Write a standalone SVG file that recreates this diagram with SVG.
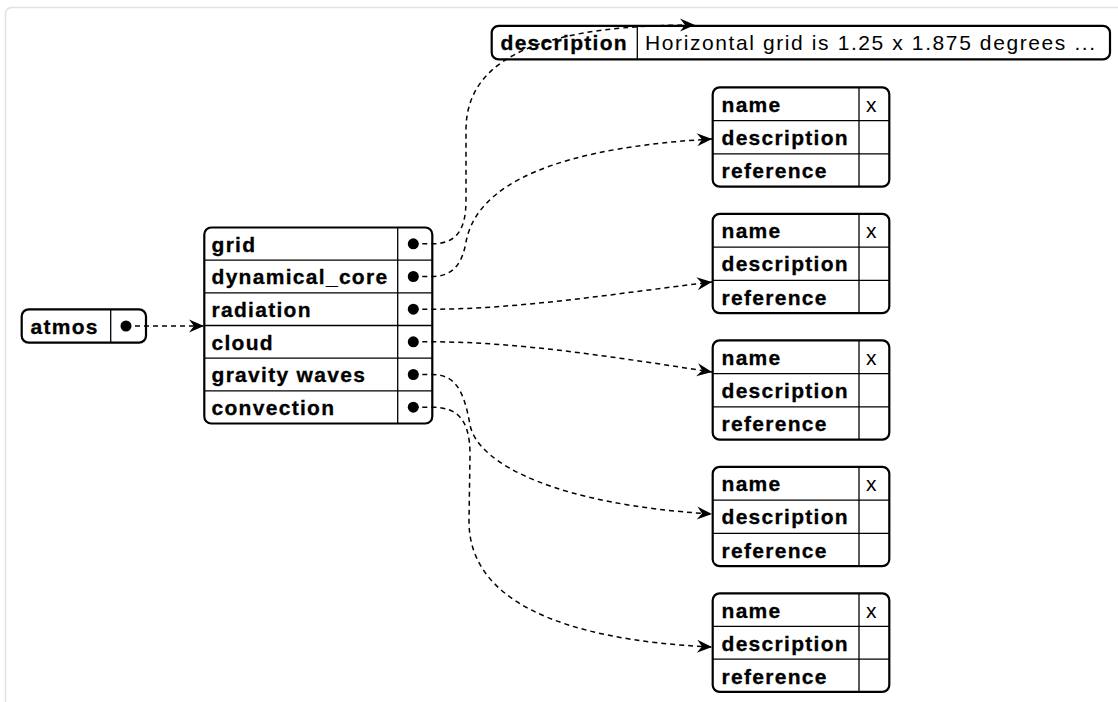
<svg xmlns="http://www.w3.org/2000/svg" width="1118" height="702" viewBox="0 0 1118 702">
  <style>
    .frame { fill: none; stroke: #dfe1ea; stroke-width: 1.5; }
    .box { fill: #ffffff; stroke: #000000; stroke-width: 2.2; }
    .sep { stroke: #000000; stroke-width: 1.3; fill: none; }
    .lbl { font-family: "Liberation Sans", Arial, sans-serif; font-size: 21px; font-weight: bold; letter-spacing: 1.3px; fill: #000000; stroke: #000000; stroke-width: 0.3px; }
    .val { font-family: "Liberation Sans", Arial, sans-serif; font-size: 21px; font-weight: normal; letter-spacing: 1.6px; fill: #000000; }
    .dot { fill: #000000; }
    .edge { fill: none; stroke: #000000; stroke-width: 1.5; stroke-dasharray: 5 4; marker-end: url(#vee); }
  </style>
  <defs>
    <marker id="vee" markerUnits="userSpaceOnUse" viewBox="-16 -8 17 16" refX="0" refY="0" markerWidth="17" markerHeight="16" orient="auto">
      <path d="M0,0 L-15,-6.5 L-10,0 L-15,6.5 Z" fill="#000000" stroke="none"/>
    </marker>
  </defs>

  <rect class="frame" x="5.5" y="7.5" width="1140" height="720" rx="6"/>

  <!-- root record -->
  <g id="atmos">
    <rect class="box" x="21.7" y="309.3" width="124.3" height="33.4" rx="7"/>
    <line class="sep" x1="110.7" y1="309.3" x2="110.7" y2="342.7"/>
    <text class="lbl" x="30.5" y="333.5">atmos</text>
    <circle class="dot" cx="126" cy="326" r="5.5"/>
  </g>

  <!-- component table -->
  <g id="components">
    <rect class="box" x="204.3" y="227.5" width="228" height="196" rx="7"/>
    <line class="sep" x1="397.7" y1="227.5" x2="397.7" y2="423.5"/>
    <line class="sep" x1="204.3" y1="260.2" x2="432.3" y2="260.2"/>
    <line class="sep" x1="204.3" y1="292.8" x2="432.3" y2="292.8"/>
    <line class="sep" x1="204.3" y1="325.5" x2="432.3" y2="325.5"/>
    <line class="sep" x1="204.3" y1="358.2" x2="432.3" y2="358.2"/>
    <line class="sep" x1="204.3" y1="390.8" x2="432.3" y2="390.8"/>
    <text class="lbl" x="211.5" y="251.5">grid</text>
    <text class="lbl" x="211.5" y="284.2">dynamical_core</text>
    <text class="lbl" x="211.5" y="316.9">radiation</text>
    <text class="lbl" x="211.5" y="349.5">cloud</text>
    <text class="lbl" x="211.5" y="382.2">gravity waves</text>
    <text class="lbl" x="211.5" y="414.9">convection</text>
    <circle class="dot" cx="413.3" cy="243.8" r="5.5"/>
    <circle class="dot" cx="413.3" cy="276.5" r="5.5"/>
    <circle class="dot" cx="413.3" cy="309.2" r="5.5"/>
    <circle class="dot" cx="413.3" cy="341.8" r="5.5"/>
    <circle class="dot" cx="413.3" cy="374.5" r="5.5"/>
    <circle class="dot" cx="413.3" cy="407.2" r="5.5"/>
  </g>

  <!-- grid description -->
  <g id="grid">
    <rect class="box" x="491.7" y="25.8" width="618.3" height="33.6" rx="7"/>
    <line class="sep" x1="637.3" y1="25.8" x2="637.3" y2="59.4"/>
    <text class="lbl" x="500.5" y="49.7">description</text>
    <text class="val" x="645" y="49.7">Horizontal grid is 1.25 x 1.875 degrees ...</text>
  </g>

  <!-- scheme records -->
  <g id="dynamical_core">
    <rect class="box" x="712.7" y="87.3" width="176.6" height="99.4" rx="7"/>
    <line class="sep" x1="859" y1="87.3" x2="859" y2="186.7"/>
    <line class="sep" x1="712.7" y1="120.6" x2="889.3" y2="120.6"/>
    <line class="sep" x1="712.7" y1="153.8" x2="889.3" y2="153.8"/>
    <text class="lbl" x="721.5" y="111.7">name</text>
    <text class="val" x="866" y="111.7">x</text>
    <text class="lbl" x="721.5" y="144.9">description</text>
    <text class="lbl" x="721.5" y="178.1">reference</text>
  </g>

  <g id="radiation">
    <rect class="box" x="712.7" y="213.8" width="176.6" height="99.4" rx="7"/>
    <line class="sep" x1="859" y1="213.8" x2="859" y2="313.2"/>
    <line class="sep" x1="712.7" y1="247.1" x2="889.3" y2="247.1"/>
    <line class="sep" x1="712.7" y1="280.3" x2="889.3" y2="280.3"/>
    <text class="lbl" x="721.5" y="238.2">name</text>
    <text class="val" x="866" y="238.2">x</text>
    <text class="lbl" x="721.5" y="271.4">description</text>
    <text class="lbl" x="721.5" y="304.6">reference</text>
  </g>

  <g id="cloud">
    <rect class="box" x="712.7" y="340.3" width="176.6" height="99.4" rx="7"/>
    <line class="sep" x1="859" y1="340.3" x2="859" y2="439.7"/>
    <line class="sep" x1="712.7" y1="373.6" x2="889.3" y2="373.6"/>
    <line class="sep" x1="712.7" y1="406.8" x2="889.3" y2="406.8"/>
    <text class="lbl" x="721.5" y="364.7">name</text>
    <text class="val" x="866" y="364.7">x</text>
    <text class="lbl" x="721.5" y="397.9">description</text>
    <text class="lbl" x="721.5" y="431.1">reference</text>
  </g>

  <g id="gravity_waves">
    <rect class="box" x="712.7" y="466.8" width="176.6" height="99.4" rx="7"/>
    <line class="sep" x1="859" y1="466.8" x2="859" y2="566.2"/>
    <line class="sep" x1="712.7" y1="500.1" x2="889.3" y2="500.1"/>
    <line class="sep" x1="712.7" y1="533.3" x2="889.3" y2="533.3"/>
    <text class="lbl" x="721.5" y="491.2">name</text>
    <text class="val" x="866" y="491.2">x</text>
    <text class="lbl" x="721.5" y="524.4">description</text>
    <text class="lbl" x="721.5" y="557.6">reference</text>
  </g>

  <g id="convection">
    <rect class="box" x="712.7" y="593.3" width="176.6" height="98.6" rx="7"/>
    <line class="sep" x1="859" y1="593.3" x2="859" y2="691.9"/>
    <line class="sep" x1="712.7" y1="626.3" x2="889.3" y2="626.3"/>
    <line class="sep" x1="712.7" y1="659.2" x2="889.3" y2="659.2"/>
    <text class="lbl" x="721.5" y="617.5">name</text>
    <text class="val" x="866" y="617.5">x</text>
    <text class="lbl" x="721.5" y="650.5">description</text>
    <text class="lbl" x="721.5" y="683.5">reference</text>
  </g>

  <!-- pointer edges -->
  <g id="connectors">
    <path class="edge" d="M126,326 L204,326"/>
    <path class="edge" d="M413.3,243.8 L432,243.8 C455,243.8 466,232 466,200 L466,130 C466,50 560,25 695,25"/>
    <path class="edge" d="M413.3,276.5 L432,276.5 C452,276.5 462,265 466,242 C474,200 520,150 712,139"/>
    <path class="edge" d="M413.3,309.2 L432,309.2 C520,309.2 620,293 712,282"/>
    <path class="edge" d="M413.3,341.8 L432,341.8 C520,341.8 620,358 712,372"/>
    <path class="edge" d="M413.3,374.5 L432,374.5 C455,374.5 464,390 470,425 C478,465 560,505 712,514"/>
    <path class="edge" d="M413.3,407.2 L432,407.2 C458,407.2 470,420 470,455 L469,520 C468,600 560,640 712,647"/>
  </g>
</svg>
